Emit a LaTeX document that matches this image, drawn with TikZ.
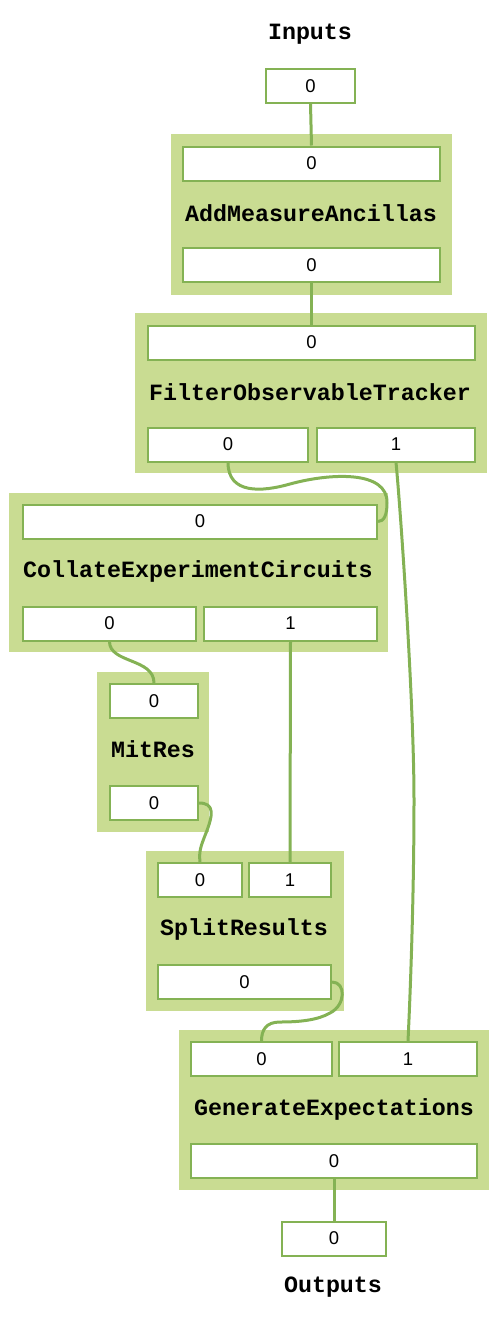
\documentclass[tikz,border=0pt]{standalone}
\usepackage{fontspec}
\setmainfont{Liberation Sans}
\newfontfamily\titlefont{Liberation Mono}
\definecolor{portgreen}{RGB}{132,178,84}
\definecolor{clusterfill}{RGB}{201,220,146}
\begin{document}
\begin{tikzpicture}[x=1pt,y=-1pt,
  port/.style={draw=portgreen, line width=2pt, fill=white, inner sep=0pt, minimum height=34pt, font=\fontsize{18.5}{18.5}\selectfont},
  cluster/.style={fill=clusterfill, inner sep=0pt},
  ttl/.style={font=\titlefont\bfseries\fontsize{23.3}{24}\selectfont, text=black, inner sep=0pt},
  edge/.style={draw=portgreen, line width=3pt}]
\useasboundingbox (0,0) rectangle (500,1325);
% clusters
\node[cluster, minimum width=281pt, minimum height=161pt] (amc) at (311.5,214.5) {};
\node[cluster, minimum width=352pt, minimum height=160pt] (fotc) at (311,393) {};
\node[cluster, minimum width=379pt, minimum height=159pt] (cecc) at (198.5,572.5) {};
\node[cluster, minimum width=112pt, minimum height=160pt] (mrc) at (153,752) {};
\node[cluster, minimum width=198pt, minimum height=160pt] (src) at (245,931) {};
\node[cluster, minimum width=310pt, minimum height=160pt] (gec) at (334,1110) {};
% titles
\node[ttl] (tin) at (310,34) {Inputs};
\node[ttl] (tam) at (311,213) {AddMeasureAncillas};
\node[ttl] (tfot) at (310,392) {FilterObservableTracker};
\node[ttl] (tcec) at (198,571) {CollateExperimentCircuits};
\node[ttl] (tmr) at (153,749) {MitRes};
\node[ttl] (tsr) at (244,929) {SplitResults};
\node[ttl] (tge) at (334,1109) {GenerateExpectations};
\node[ttl] (tout) at (333,1287) {Outputs};
% ports
\node[port, minimum width=89pt] (in0) at (310.5,86) {0};
\node[port, minimum width=257pt] (amin) at (311.5,163.5) {0};
\node[port, minimum width=257pt] (amout) at (311.5,265) {0};
\node[port, minimum width=327pt] (fotin) at (311.5,342.5) {0};
\node[port, minimum width=160pt] (foto0) at (228,444.5) {0};
\node[port, minimum width=158pt] (foto1) at (396,444.5) {1};
\node[port, minimum width=354pt] (cecin) at (200,521.5) {0};
\node[port, minimum width=173pt] (ceco0) at (109.5,623.5) {0};
\node[port, minimum width=173pt] (ceco1) at (290.5,623.5) {1};
\node[port, minimum width=88pt] (mrin) at (154,701) {0};
\node[port, minimum width=88pt] (mrout) at (154,803) {0};
\node[port, minimum width=84pt] (sri0) at (200,880) {0};
\node[port, minimum width=82pt] (sri1) at (290,880) {1};
\node[port, minimum width=173pt] (srout) at (244.5,982) {0};
\node[port, minimum width=141pt] (gei0) at (261.5,1059) {0};
\node[port, minimum width=138pt] (gei1) at (408,1059) {1};
\node[port, minimum width=286pt] (geout) at (334,1161) {0};
\node[port, minimum width=104pt] (out0) at (334,1238.5) {0};
% edges
\draw[edge] (in0.south) -- (amin.north);
\draw[edge] (amout.south) -- (fotin.north);
\draw[edge] (foto0.south) .. controls +(0,32) and (262,492) .. (290,484)
  .. controls (330,473) and (388,470) .. (387,503)
  .. controls (387,515) and (384,521.5) .. (cecin.east);
\draw[edge] (foto1.south) .. controls +(4,40) and (414,700) .. (414,800)
  .. controls (414,900) and (410,1000) .. (gei1.north);
\draw[edge] (ceco0.south) .. controls +(0,22) and +(0,-25) .. (mrin.north);
\draw[edge] (ceco1.south) -- (sri1.north);
\draw[edge] (mrout.east) .. controls +(16,0) and (213,815) .. (206,833)
  .. controls (200,848) and (199,852) .. (sri0.north);
\draw[edge] (srout.east) .. controls +(14,0) and (346,1005) .. (330,1013)
  .. controls (318,1020) and (300,1022) .. (280,1022)
  .. controls (266,1022) and (261.5,1030) .. (gei0.north);
\draw[edge] (geout.south) -- (out0.north);
\end{tikzpicture}
\end{document}
